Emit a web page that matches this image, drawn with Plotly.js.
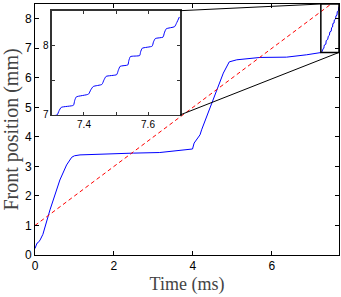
<!DOCTYPE html>
<html>
<head>
<meta charset="utf-8">
<script src="https://cdn.plot.ly/plotly-3.0.1.min.js"></script>
<style>html,body{margin:0;padding:0;background:#fff;}#chart{width:341px;height:297px;}</style>
</head>
<body>
<div id="chart"></div>
<script>
// Main front-position trace (time in ms, position in mm)
var mainT = [0, 0.02, 0.05, 0.08, 0.13, 0.2, 0.38, 0.63, 0.8, 0.93, 1.0, 1.14, 1.65, 2.49, 3.16, 3.67, 3.99, 4.03, 4.09, 4.18, 4.22, 4.51, 4.77, 4.92, 5.11, 5.70, 6.37, 6.88, 7.26];
var mainY = [0.22, 0.28, 0.40, 0.42, 0.51, 0.70, 1.53, 2.54, 3.05, 3.31, 3.36, 3.39, 3.42, 3.45, 3.47, 3.54, 3.59, 3.79, 3.92, 4.07, 4.24, 5.25, 6.16, 6.54, 6.61, 6.69, 6.70, 6.78, 6.86];
// Zoomed staircase (inset) 7.3 - 7.7 ms
var zoomT = [7.300, 7.316, 7.322, 7.329, 7.367, 7.371, 7.376, 7.414, 7.421, 7.429, 7.456, 7.462, 7.469, 7.502, 7.507, 7.513, 7.537, 7.540, 7.545, 7.574, 7.577, 7.582, 7.613, 7.617, 7.623, 7.647, 7.651, 7.657, 7.683, 7.690, 7.698];
var zoomY = [6.99, 7.00, 7.06, 7.11, 7.14, 7.21, 7.26, 7.30, 7.36, 7.41, 7.44, 7.50, 7.555, 7.58, 7.64, 7.70, 7.72, 7.78, 7.84, 7.855, 7.91, 7.96, 7.99, 8.05, 8.10, 8.12, 8.18, 8.24, 8.27, 8.33, 8.41];
// Linear fit (red dashed)
var fitT = [0, 7.5];
var fitY = [1.0, 8.5];
// Axis ranges and ticks
var mainXRange = [0, 7.7], mainYRange = [0, 8.5];
var mainXTicks = [0, 2, 4, 6], mainYTicks = [0, 1, 2, 3, 4, 5, 6, 7, 8];
var insetXRange = [7.3, 7.7], insetYRange = [7, 8.5];
var insetXTicks = [7.4, 7.5, 7.6], insetXText = ['7.4', '', '7.6'];
var insetYTicks = [7, 7.5, 8], insetYText = ['7', '', '8'];
// Zoom box drawn on main axes
var boxX = [7.24, 7.7], boxY = [6.86, 8.5];

var insetDomX = [0.0559, 0.477], insetDomY = [0.5578, 0.9733];

function px(v){ return (v - mainXRange[0]) / (mainXRange[1] - mainXRange[0]); }
function py(v){ return (v - mainYRange[0]) / (mainYRange[1] - mainYRange[0]); }

var blue = '#0000ff';
var traces = [
  {x: mainT.concat(zoomT), y: mainY.concat(zoomY), type: 'scatter', mode: 'lines', line: {color: blue, width: 1}, xaxis: 'x', yaxis: 'y', hoverinfo: 'skip'},
  {x: fitT, y: fitY, type: 'scatter', mode: 'lines', line: {color: '#ff0000', width: 1, dash: '4px,3px'}, xaxis: 'x', yaxis: 'y', hoverinfo: 'skip'},
  {x: zoomT, y: zoomY, type: 'scatter', mode: 'lines', line: {color: blue, width: 1, shape: 'spline', smoothing: 0.5}, xaxis: 'x2', yaxis: 'y2', hoverinfo: 'skip'}
];

var tickFont = {family: 'Liberation Sans, Arial, sans-serif', size: 12, color: '#000'};
var smallFont = {family: 'Liberation Sans, Arial, sans-serif', size: 10, color: '#000'};

var layout = {
  width: 341, height: 297,
  margin: {l: 35, r: 2, t: 4, b: 42, pad: 0},
  paper_bgcolor: '#fff', plot_bgcolor: '#fff',
  showlegend: false,
  xaxis: {range: mainXRange, tickvals: mainXTicks, ticks: 'inside', ticklen: 4, tickcolor: '#000',
    showline: true, mirror: 'ticks', linecolor: '#000', linewidth: 1, showgrid: false, zeroline: false,
    tickfont: tickFont,
    title: {text: 'Time (ms)', font: {family: 'Liberation Serif, serif', size: 18, color: '#444'}, standoff: 4}},
  yaxis: {range: mainYRange, tickvals: mainYTicks, ticks: 'inside', ticklen: 4, tickcolor: '#000',
    showline: true, mirror: 'ticks', linecolor: '#000', linewidth: 1, showgrid: false, zeroline: false,
    tickfont: tickFont,
    title: {text: 'Front position (mm)', font: {family: 'Liberation Serif, serif', size: 20, color: '#444'}, standoff: 4}},
  xaxis2: {domain: insetDomX, anchor: 'y2', range: insetXRange, tickvals: insetXTicks, ticktext: insetXText,
    ticks: 'inside', ticklen: 3, tickcolor: '#333', showline: true, mirror: 'ticks', linecolor: '#333', linewidth: 1.5,
    showgrid: false, zeroline: false, tickfont: smallFont},
  yaxis2: {domain: insetDomY, anchor: 'x2', range: insetYRange, tickvals: insetYTicks, ticktext: insetYText,
    ticks: 'inside', ticklen: 3, tickcolor: '#333', showline: true, mirror: 'ticks', linecolor: '#333', linewidth: 1.5,
    showgrid: false, zeroline: false, tickfont: smallFont},
  shapes: [
    {type: 'rect', xref: 'x', yref: 'y', x0: boxX[0], x1: boxX[1], y0: boxY[0], y1: boxY[1], line: {color: '#000', width: 1.5}},
    {type: 'line', xref: 'paper', yref: 'paper', x0: insetDomX[1], y0: insetDomY[1], x1: px(boxX[0]), y1: py(boxY[1]), line: {color: '#000', width: 1}},
    {type: 'line', xref: 'paper', yref: 'paper', x0: insetDomX[1], y0: insetDomY[0], x1: px(boxX[1]), y1: py(boxY[0]), line: {color: '#000', width: 1}}
  ]
};

Plotly.newPlot('chart', traces, layout, {staticPlot: true, displayModeBar: false});
</script>
</body>
</html>
